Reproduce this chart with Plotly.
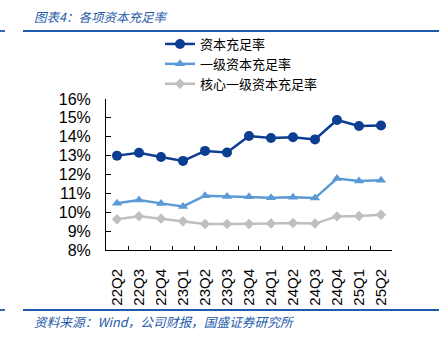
import plotly.graph_objects as go

categories = ["22Q2", "22Q3", "22Q4", "23Q1", "23Q2", "23Q3", "23Q4",
              "24Q1", "24Q2", "24Q3", "24Q4", "25Q1", "25Q2"]
capital_ratio = [13.00, 13.15, 12.93, 12.72, 13.25, 13.17, 14.04,
                 13.93, 13.97, 13.86, 14.89, 14.57, 14.60]
tier1_ratio = [10.48, 10.65, 10.47, 10.31, 10.88, 10.84, 10.82,
               10.77, 10.80, 10.75, 11.79, 11.66, 11.69]
core_tier1_ratio = [9.63, 9.79, 9.66, 9.52, 9.38, 9.38, 9.38,
                    9.40, 9.43, 9.40, 9.78, 9.80, 9.87]
series_names = ["资本充足率", "一级资本充足率", "核心一级资本充足率"]
y_ticks = [8, 9, 10, 11, 12, 13, 14, 15, 16]

FONT = "Liberation Sans, Arial, Noto Sans CJK SC, sans-serif"
CJK = "Noto Sans CJK SC, Liberation Sans, sans-serif"
BLUE_DARK = "#0B3D91"
BLUE_LIGHT = "#5B9BD5"
GRAY = "#BFBFBF"
RULE = "#1F5BAA"

fig = go.Figure()
fig.add_trace(go.Scatter(x=categories, y=capital_ratio, name=series_names[0],
                         mode="lines+markers",
                         line=dict(color=BLUE_DARK, width=2.5),
                         marker=dict(symbol="circle", size=10, color=BLUE_DARK)))
fig.add_trace(go.Scatter(x=categories, y=tier1_ratio, name=series_names[1],
                         mode="lines+markers",
                         line=dict(color=BLUE_LIGHT, width=2.5),
                         marker=dict(symbol="triangle-up", size=9, color=BLUE_LIGHT)))
fig.add_trace(go.Scatter(x=categories, y=core_tier1_ratio, name=series_names[2],
                         mode="lines+markers",
                         line=dict(color=GRAY, width=2.5),
                         marker=dict(symbol="diamond", size=8, color=GRAY)))

L, R, T, B = 106, 47, 99, 87
W, H = 439, 337
pw = W - L - R
ph = H - T - B

def px2paper_x(px):
    return (px - L) / pw

def px2paper_y(py):
    return 1 + (T - py) / ph

fig.update_layout(
    width=W, height=H,
    margin=dict(l=L, r=R, t=T, b=B),
    paper_bgcolor="white", plot_bgcolor="white",
    font=dict(family=FONT, size=14, color="black"),
    showlegend=True,
    legend=dict(x=px2paper_x(160), y=px2paper_y(29),
                xanchor="left", yanchor="top",
                font=dict(family=CJK, size=13, color="black"),
                bgcolor="rgba(0,0,0,0)", tracegroupgap=0, itemwidth=30),
    xaxis=dict(type="category", range=[-0.5, 12.5],
               tickson="boundaries", ticks="inside", ticklen=4,
               tickcolor="black", showline=True, linecolor="black",
               linewidth=1, showgrid=False, tickangle=-90,
               ticklabelstandoff=12,
               tickfont=dict(family=FONT, size=15, color="black")),
    yaxis=dict(range=[8, 16], tickvals=y_ticks,
               ticktext=[f"{v}%" for v in y_ticks],
               ticks="inside", ticklen=5, tickcolor="black",
               showline=True, linecolor="black", linewidth=1,
               showgrid=False, zeroline=False,
               ticklabelstandoff=11,
               tickfont=dict(family=FONT, size=16, color="black")),
)

# header/footer rules
for ypx in (31, 310):
    yp = px2paper_y(ypx)
    fig.add_shape(type="line", xref="paper", yref="paper",
                  x0=px2paper_x(23), x1=px2paper_x(439), y0=yp, y1=yp,
                  line=dict(color=RULE, width=1.8))
    fig.add_shape(type="line", xref="paper", yref="paper",
                  x0=px2paper_x(0), x1=px2paper_x(5), y0=yp, y1=yp,
                  line=dict(color=RULE, width=1.8))

fig.add_annotation(text="<i>图表4：各项资本充足率</i>", xref="paper", yref="paper",
                   x=px2paper_x(32), y=px2paper_y(16),
                   xanchor="left", yanchor="middle", showarrow=False,
                   font=dict(family=CJK, size=12.5, color=RULE))
fig.add_annotation(text="<i>资料来源：Wind，公司财报，国盛证券研究所</i>",
                   xref="paper", yref="paper",
                   x=px2paper_x(32), y=px2paper_y(321),
                   xanchor="left", yanchor="middle", showarrow=False,
                   font=dict(family=CJK, size=12.7, color=RULE))

fig.write_html("out.html")
